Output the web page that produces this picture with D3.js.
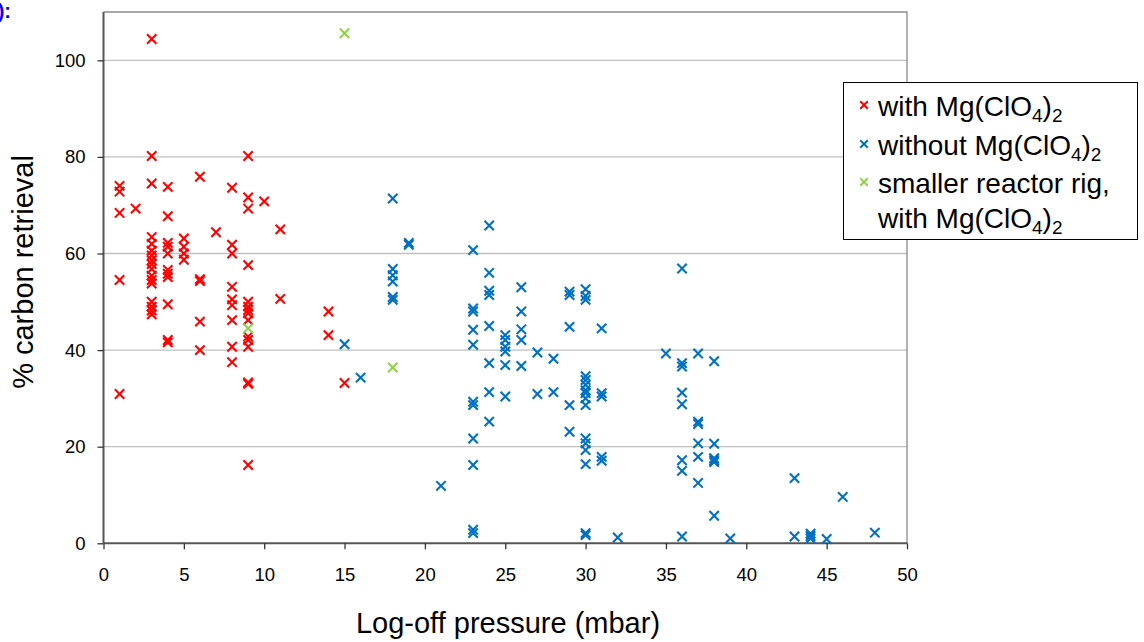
<!DOCTYPE html>
<html>
<head>
<meta charset="utf-8">
<script src="https://cdn.jsdelivr.net/npm/d3@7"></script>
<style>
  body { margin: 0; background: #fff; }
  svg { font-family: Arial, "Liberation Sans", sans-serif; }
</style>
</head>
<body>
<div id="chart"></div>
<script>
// log-off pressure (mbar), % carbon retrieval
var withMg = [
  [1, 74.0], [1, 72.8], [1, 68.4], [1, 54.5], [1, 30.9],
  [2, 69.3],
  [3, 104.4], [3, 80.2], [3, 74.5], [3, 63.4], [3, 62.0], [3, 60.6], [3, 59.6], [3, 58.6],
  [3, 57.8], [3, 56.8], [3, 55.4], [3, 54.5], [3, 53.8], [3, 50.0], [3, 49.0], [3, 48.2], [3, 47.4],
  [4, 73.8], [4, 67.7], [4, 62.2], [4, 61.4], [4, 60.0], [4, 56.6], [4, 55.8], [4, 55.1],
  [4, 49.5], [4, 42.1], [4, 41.6],
  [5, 63.1], [5, 61.4], [5, 60.0], [5, 58.7],
  [6, 75.9], [6, 54.7], [6, 54.3], [6, 45.9], [6, 40.0],
  [7, 64.4],
  [8, 73.6], [8, 61.8], [8, 60.0], [8, 53.1], [8, 50.5], [8, 49.3], [8, 46.2], [8, 40.7], [8, 37.5],
  [9, 80.2], [9, 71.6], [9, 69.3], [9, 57.6], [9, 50.0], [9, 49.0], [9, 48.3], [9, 47.6],
  [9, 46.2], [9, 42.8], [9, 42.1], [9, 40.7], [9, 33.3], [9, 33.0], [9, 16.2],
  [10, 70.8],
  [11, 65.0], [11, 50.6],
  [14, 48.0], [14, 43.1],
  [15, 33.2]
];

var withoutMg = [
  [15, 41.2], [16, 34.3],
  [18, 71.4], [18, 56.8], [18, 55.5], [18, 54.2], [18, 51.0], [18, 50.4],
  [19, 62.2], [19, 61.8],
  [21, 11.9],
  [23, 60.7], [23, 48.6], [23, 48.0], [23, 44.2], [23, 41.1], [23, 29.3], [23, 28.6],
  [23, 21.7], [23, 16.2], [23, 2.8], [23, 2.1],
  [24, 65.8], [24, 56.0], [24, 52.3], [24, 51.4], [24, 45.0], [24, 37.3], [24, 31.3], [24, 25.2],
  [25, 43.1], [25, 42.1], [25, 40.7], [25, 39.7], [25, 36.9], [25, 30.4],
  [26, 53.0], [26, 48.0], [26, 44.3], [26, 42.1], [26, 36.7],
  [27, 39.5], [27, 30.9],
  [28, 38.2], [28, 31.3],
  [29, 52.1], [29, 51.4], [29, 44.8], [29, 28.6], [29, 23.1],
  [30, 52.6], [30, 51.2], [30, 50.4], [30, 34.6], [30, 33.8], [30, 32.8], [30, 31.7], [30, 31.1],
  [30, 30.0], [30, 28.6], [30, 21.7], [30, 20.7], [30, 19.3], [30, 16.4], [30, 2.1], [30, 1.7],
  [31, 44.5], [31, 31.1], [31, 30.4], [31, 17.9], [31, 17.1],
  [32, 1.2],
  [35, 39.3],
  [36, 56.9], [36, 37.3], [36, 36.6], [36, 31.2], [36, 28.8], [36, 17.2], [36, 15.0], [36, 1.4],
  [37, 39.3], [37, 25.2], [37, 24.7], [37, 20.7], [37, 17.9], [37, 12.5],
  [38, 37.7], [38, 20.6], [38, 17.6], [38, 17.2], [38, 16.8], [38, 5.7],
  [39, 1.0],
  [43, 13.5], [43, 1.4],
  [44, 2.0], [44, 1.5], [44, 1.0],
  [45, 0.9],
  [46, 9.6],
  [48, 2.2]
];

var smallerRig = [
  [9, 44.5], [15, 105.6], [18, 36.4]
];

var xTicks = [0, 5, 10, 15, 20, 25, 30, 35, 40, 45, 50];
var yTicks = [0, 20, 40, 60, 80, 100];

var width = 1144, height = 642;
var plot = {left: 103.5, right: 907, top: 12, bottom: 543.3};

var svg = d3.select("#chart").append("svg")
    .attr("width", width)
    .attr("height", height);

var x = d3.scaleLinear().domain([0, 50]).range([plot.left, plot.right]);
var y = d3.scaleLinear().domain([0, 110]).range([plot.bottom, plot.top]);

// label fragment in the corner (cropped in the original too)
svg.append("text")
    .attr("x", 11).attr("y", 18)
    .attr("text-anchor", "end")
    .attr("fill", "#0000ff")
    .attr("font-weight", "bold")
    .attr("font-size", 20)
    .text("):");

// gridlines
svg.append("g")
    .selectAll("line")
    .data(yTicks.filter(d => d > 0))
    .enter().append("line")
    .attr("x1", plot.left).attr("x2", plot.right)
    .attr("y1", d => y(d)).attr("y2", d => y(d))
    .attr("stroke", "#c0c0c0")
    .attr("stroke-width", 1.3);

// frame (top + right)
svg.append("path")
    .attr("d", "M" + plot.left + "," + plot.top + "H" + plot.right + "V" + plot.bottom)
    .attr("fill", "none")
    .attr("stroke", "#8a8a8a")
    .attr("stroke-width", 1.3);

// axes
var yAxis = svg.append("g")
    .attr("transform", "translate(" + plot.left + ",0)")
    .call(d3.axisLeft(y).tickValues(yTicks).tickSize(6).tickPadding(12));
yAxis.select(".domain").attr("d", "M0," + plot.top + "V" + plot.bottom);

var xAxis = svg.append("g")
    .attr("transform", "translate(0," + plot.bottom + ")")
    .call(d3.axisBottom(x).tickValues(xTicks).tickSize(6).tickPadding(19));
xAxis.select(".domain").attr("d", "M" + plot.left + ",0H" + plot.right);

svg.selectAll(".domain").attr("stroke", "#555").attr("stroke-width", 2);
svg.selectAll(".tick line").attr("stroke", "#333").attr("stroke-width", 1.3);
svg.selectAll(".tick text")
    .attr("font-size", 18.5)
    .attr("font-family", "Arial, 'Liberation Sans', sans-serif")
    .attr("fill", "#000");

// axis titles
svg.append("text")
    .attr("x", 508)
    .attr("y", 633)
    .attr("text-anchor", "middle")
    .attr("font-size", 29)
    .text("Log-off pressure (mbar)");

svg.append("text")
    .attr("transform", "translate(33,272) rotate(-90)")
    .attr("text-anchor", "middle")
    .attr("font-size", 29)
    .text("% carbon retrieval");

var cross = function(size) {
    return "M" + (-size) + "," + (-size) + "L" + size + "," + size +
           "M" + (-size) + "," + size + "L" + size + "," + (-size);
};

var drawSeries = function(data, colour) {
    svg.append("g")
        .selectAll("path")
        .data(data)
        .enter().append("path")
        .attr("transform", d => "translate(" + x(d[0]) + "," + y(d[1]) + ")")
        .attr("d", cross(4.7))
        .attr("fill", "none")
        .attr("stroke", colour)
        .attr("stroke-width", 2.1);
};

drawSeries(withMg, "#ff0000");
drawSeries(withoutMg, "#0070c0");
drawSeries(smallerRig, "#92d050");

// legend
var legend = svg.append("g");
legend.append("rect")
    .attr("x", 843.5).attr("y", 82.5)
    .attr("width", 294).attr("height", 157)
    .attr("fill", "#fff")
    .attr("stroke", "#000")
    .attr("stroke-width", 1);

var legendItems = [
  {colour: "#ff0000", lines: [["with Mg(ClO", "4", ")", "2"]]},
  {colour: "#0070c0", lines: [["without Mg(ClO", "4", ")", "2"]]},
  {colour: "#92d050", lines: [["smaller reactor rig,"], ["with Mg(ClO", "4", ")", "2"]]}
];
var legendBaselines = [116, 155, 193, 228];

var row = 0;
legendItems.forEach(function(item) {
    legend.append("path")
        .attr("transform", "translate(864," + (legendBaselines[row] - 11) + ")")
        .attr("d", cross(3.8))
        .attr("fill", "none")
        .attr("stroke", item.colour)
        .attr("stroke-width", 2);
    item.lines.forEach(function(parts) {
        var t = legend.append("text")
            .attr("x", 878)
            .attr("y", legendBaselines[row])
            .attr("font-size", 28);
        parts.forEach(function(p, i) {
            var ts = t.append("tspan").text(p);
            if (i % 2 === 1) {
                ts.attr("font-size", 19).attr("dy", 6);
            } else if (i > 0) {
                ts.attr("dy", -6);
            }
        });
        row++;
    });
});
</script>
</body>
</html>
